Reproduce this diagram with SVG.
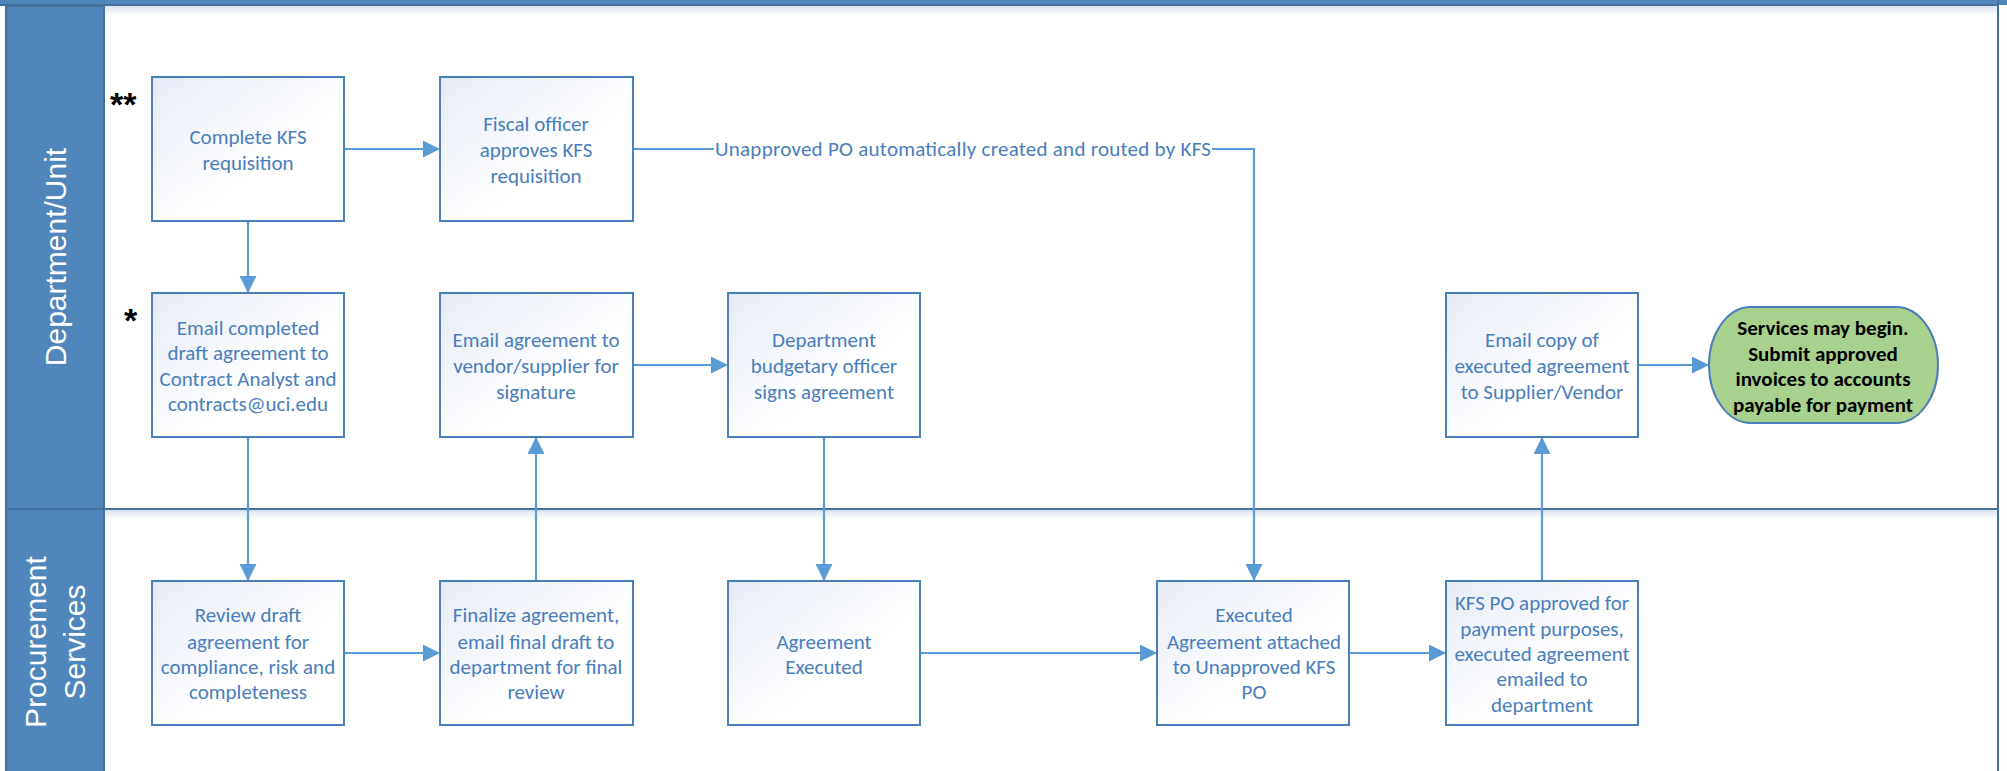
<svg xmlns="http://www.w3.org/2000/svg" width="2007" height="771" viewBox="0 0 2007 771">
<defs>
<style>
.box{fill:url(#boxg);stroke:#4a7ebb;stroke-width:2}
.t{font-family:Carlito,"Liberation Sans Narrow","Liberation Sans",sans-serif;font-size:21px;fill:#4a7ebb;text-anchor:middle}
.tb{font-family:Carlito,"Liberation Sans Narrow","Liberation Sans",sans-serif;font-size:21px;font-weight:bold;fill:#000;text-anchor:middle}
.lane{font-family:"Liberation Sans",Arial,sans-serif;font-size:30px;fill:#fff;text-anchor:middle}
.star{font-family:"Liberation Sans",Arial,sans-serif;font-size:34px;font-weight:bold;fill:#000}
.c{fill:none;stroke:#5b9bd5;stroke-width:2.2}
.lbl{font-family:Carlito,"Liberation Sans Narrow","Liberation Sans",sans-serif;font-size:21px;fill:#4a7ebb}
</style>
<linearGradient id="boxg" x1="0" y1="0" x2="1" y2="1">
<stop offset="0" stop-color="#e6ecf7"/>
<stop offset="0.6" stop-color="#ffffff"/>
<stop offset="1" stop-color="#ffffff"/>
</linearGradient>
<linearGradient id="shadowV" x1="0" y1="0" x2="0" y2="1">
<stop offset="0" stop-color="#c9d7ea" stop-opacity="0.8"/>
<stop offset="1" stop-color="#ffffff" stop-opacity="0"/>
</linearGradient>
<marker id="ah" markerUnits="userSpaceOnUse" markerWidth="18" markerHeight="18" refX="17" refY="8.5" orient="auto">
<path d="M0,0 L17,8.5 L0,17 z" fill="#5b9bd5"/>
</marker>
</defs>
<rect x="0" y="0" width="2007" height="771" fill="#fff"/>
<g id="pool">
<rect x="105" y="6" width="1892" height="12" fill="url(#shadowV)"/>
<rect x="105" y="510" width="1892" height="12" fill="url(#shadowV)"/>
<rect x="0" y="0" width="2007" height="5" fill="#4f86bb"/>
<line x1="0" y1="5" x2="1998" y2="5" stroke="#41719c" stroke-width="2"/>
<line x1="1998" y1="0" x2="1998" y2="771" stroke="#41719c" stroke-width="2"/>
<rect x="6" y="6" width="98" height="770" fill="#4f86bb" stroke="#41719c" stroke-width="2"/>
<line x1="6" y1="509" x2="1998" y2="509" stroke="#41719c" stroke-width="2.2"/>
</g>
<g id="lane-dept">
<text class="lane" transform="translate(66,257) rotate(-90)">Department/Unit</text>
</g>
<g id="lane-proc">
<text class="lane" transform="translate(46,642) rotate(-90)">Procurement</text>
<text class="lane" transform="translate(85,642) rotate(-90)">Services</text>
</g>
<g id="connectors">
<line class="c" x1="344" y1="149" x2="440" y2="149" marker-end="url(#ah)"/>
<line class="c" x1="248" y1="221" x2="248" y2="293" marker-end="url(#ah)"/>
<line class="c" x1="248" y1="437" x2="248" y2="581" marker-end="url(#ah)"/>
<line class="c" x1="344" y1="653" x2="440" y2="653" marker-end="url(#ah)"/>
<line class="c" x1="536" y1="581" x2="536" y2="437" marker-end="url(#ah)"/>
<line class="c" x1="633" y1="365" x2="728" y2="365" marker-end="url(#ah)"/>
<line class="c" x1="824" y1="437" x2="824" y2="581" marker-end="url(#ah)"/>
<line class="c" x1="920" y1="653" x2="1157" y2="653" marker-end="url(#ah)"/>
<polyline class="c" points="633,149 714,149"/>
<polyline class="c" points="1212,149 1254,149 1254,581" marker-end="url(#ah)"/>
<text class="lbl" x="715" y="156" textLength="496" lengthAdjust="spacing">Unapproved PO automatically created and routed by KFS</text>
<line class="c" x1="1349" y1="653" x2="1446" y2="653" marker-end="url(#ah)"/>
<line class="c" x1="1542" y1="581" x2="1542" y2="437" marker-end="url(#ah)"/>
<line class="c" x1="1638" y1="365" x2="1709" y2="365" marker-end="url(#ah)"/>
</g>
<g id="n-complete">
<rect class="box" x="152" y="77" width="192" height="144"/>
<text class="t" x="248" y="144">Complete KFS</text>
<text class="t" x="248" y="170">requisition</text>
<text class="star" x="110" y="116">**</text>
</g>
<g id="n-fiscal">
<rect class="box" x="440" y="77" width="193" height="144"/>
<text class="t" x="536" y="131">Fiscal officer</text>
<text class="t" x="536" y="157">approves KFS</text>
<text class="t" x="536" y="183">requisition</text>
</g>
<g id="n-emaildraft">
<rect class="box" x="152" y="293" width="192" height="144"/>
<text class="t" x="248" y="335">Email completed</text>
<text class="t" x="248" y="360">draft agreement to</text>
<text class="t" x="248" y="386">Contract Analyst and</text>
<text class="t" x="248" y="411">contracts@uci.edu</text>
<text class="star" x="124" y="332">*</text>
</g>
<g id="n-emailvendor">
<rect class="box" x="440" y="293" width="193" height="144"/>
<text class="t" x="536" y="347">Email agreement to</text>
<text class="t" x="536" y="373">vendor/supplier for</text>
<text class="t" x="536" y="399">signature</text>
</g>
<g id="n-deptsign">
<rect class="box" x="728" y="293" width="192" height="144"/>
<text class="t" x="824" y="347">Department</text>
<text class="t" x="824" y="373">budgetary officer</text>
<text class="t" x="824" y="399">signs agreement</text>
</g>
<g id="n-emailcopy">
<rect class="box" x="1446" y="293" width="192" height="144"/>
<text class="t" x="1542" y="347">Email copy of</text>
<text class="t" x="1542" y="373">executed agreement</text>
<text class="t" x="1542" y="399">to Supplier/Vendor</text>
</g>
<g id="n-services">
<rect x="1709" y="307" width="229" height="116" rx="42" ry="58" fill="#a9d18e" stroke="#4a7ebb" stroke-width="2"/>
<text class="tb" x="1823" y="335">Services may begin.</text>
<text class="tb" x="1823" y="361">Submit approved</text>
<text class="tb" x="1823" y="386">invoices to accounts</text>
<text class="tb" x="1823" y="412">payable for payment</text>
</g>
<g id="n-review">
<rect class="box" x="152" y="581" width="192" height="144"/>
<text class="t" x="248" y="622">Review draft</text>
<text class="t" x="248" y="649">agreement for</text>
<text class="t" x="248" y="674">compliance, risk and</text>
<text class="t" x="248" y="699">completeness</text>
</g>
<g id="n-finalize">
<rect class="box" x="440" y="581" width="193" height="144"/>
<text class="t" x="536" y="622">Finalize agreement,</text>
<text class="t" x="536" y="649">email final draft to</text>
<text class="t" x="536" y="674">department for final</text>
<text class="t" x="536" y="699">review</text>
</g>
<g id="n-executed">
<rect class="box" x="728" y="581" width="192" height="144"/>
<text class="t" x="824" y="649">Agreement</text>
<text class="t" x="824" y="674">Executed</text>
</g>
<g id="n-attached">
<rect class="box" x="1157" y="581" width="192" height="144"/>
<text class="t" x="1254" y="622">Executed</text>
<text class="t" x="1254" y="649">Agreement attached</text>
<text class="t" x="1254" y="674">to Unapproved KFS</text>
<text class="t" x="1254" y="699">PO</text>
</g>
<g id="n-kfspo">
<rect class="box" x="1446" y="581" width="192" height="144"/>
<text class="t" x="1542" y="610">KFS PO approved for</text>
<text class="t" x="1542" y="636">payment purposes,</text>
<text class="t" x="1542" y="661">executed agreement</text>
<text class="t" x="1542" y="686">emailed to</text>
<text class="t" x="1542" y="712">department</text>
</g>
</svg>
